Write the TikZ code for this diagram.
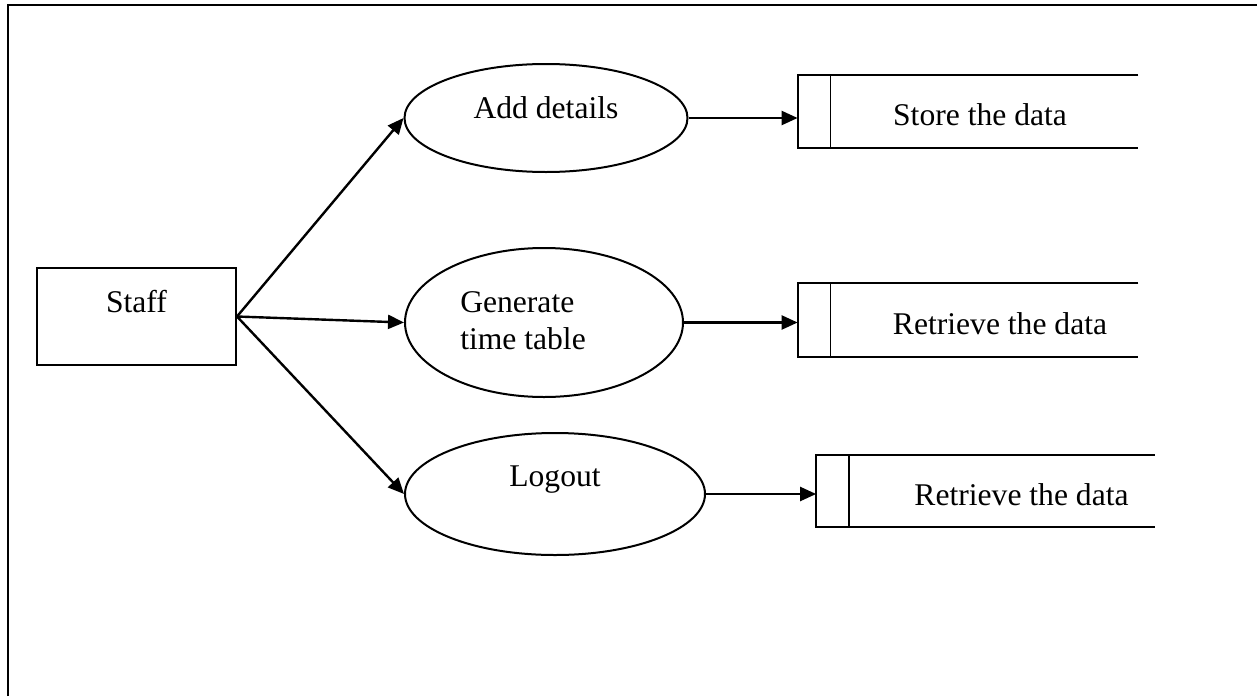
\documentclass[tikz,border=0pt]{standalone}
\usepackage{fontspec}
\setmainfont{Liberation Serif}
\usetikzlibrary{shapes.geometric,arrows.meta}

\begin{document}
\begin{tikzpicture}[x=0.5pt, y=-0.5pt,
    every label/.style={font=\fontsize{15.8}{18.5}\selectfont, inner sep=0pt},
    entity/.style={rectangle, draw, line width=1pt, minimum width=99.5pt, minimum height=48.5pt},
    process/.style={ellipse, draw, line width=1pt, inner sep=0pt},
    datastore/.style={rectangle, inner sep=0pt, minimum width=170pt, minimum height=36.5pt},
    flow/.style={-{Triangle[length=8pt,width=7pt]}, line width=1.2pt}]
    \useasboundingbox (0,0) rectangle (1257,696);
    % frame
    \draw[line width=0.9pt] (8,696) -- (8,5) -- (1257,5);

    % external entity
    \node[entity, label={[yshift=7.5pt]center:Staff}] (staff) at (136.5,316.5) {};

    % processes
    \node[process, minimum width=141.5pt, minimum height=54pt,
        label={[yshift=5pt]center:Add details}] (adddet) at (546,118) {};
    \node[process, minimum width=139pt, minimum height=74.5pt,
        label={[xshift=-10.5pt, yshift=1pt, align=left]center:Generate\\time table}] (gentt) at (544,322.5) {};
    \node[process, minimum width=150pt, minimum height=61pt,
        label={[yshift=7pt]center:Logout}] (logout) at (555,494) {};

    % data stores
    \node[datastore, label={[xshift=6pt, yshift=-1.75pt]center:Store the data}] (store) at (968,111.5) {};
    \node[datastore, label={[xshift=16pt, yshift=-1.75pt]center:Retrieve the data}] (retra) at (968,320) {};
    \node[datastore, minimum width=169pt, minimum height=36pt,
        label={[xshift=18pt, yshift=-2pt]center:Retrieve the data}] (retrb) at (985.5,491) {};
    \foreach \s in {store, retra, retrb} {
        \draw[line width=1pt] (\s.north east) -- (\s.north west) -- (\s.south west) -- (\s.south east);
        \draw[line width=0.7pt] ([xshift=16.5pt]\s.north west) -- ([xshift=16.5pt]\s.south west);
    };

    % data flows
    \draw[flow] (staff.east) -- (adddet.west);
    \draw[flow] (staff.east) -- (gentt.west);
    \draw[flow] (staff.east) -- (logout.west);
    \draw[flow] (adddet.east) -- (adddet.east -| store.west);
    \draw[flow] (gentt.east) -- (gentt.east -| retra.west);
    \draw[flow] (logout.east) -- (logout.east -| retrb.west);
\end{tikzpicture}
\end{document}
